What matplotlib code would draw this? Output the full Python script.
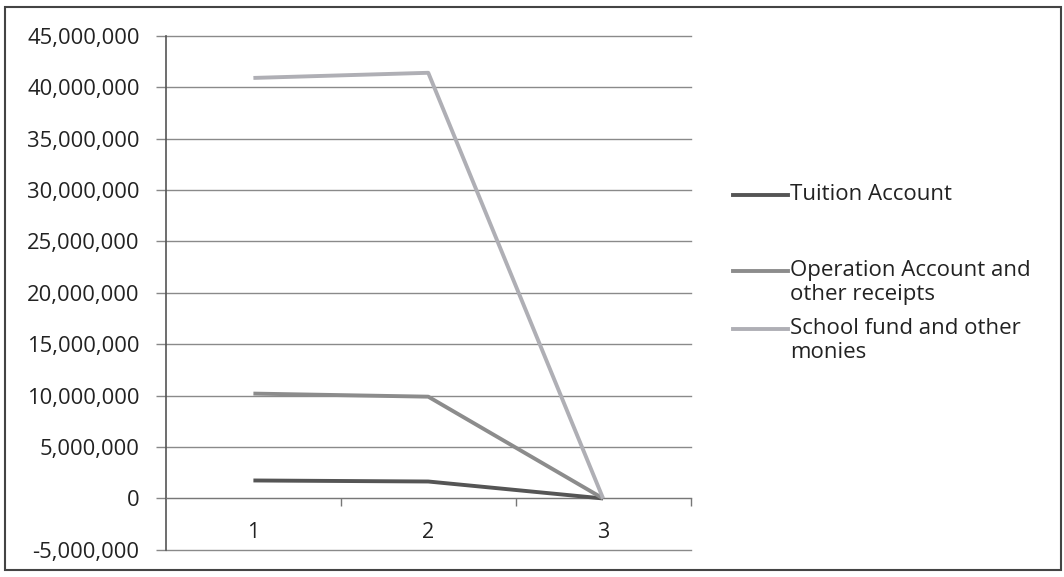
import matplotlib
matplotlib.use("Agg")
import matplotlib.pyplot as plt
from matplotlib.lines import Line2D
from matplotlib.patches import Rectangle
from matplotlib.ticker import FuncFormatter, FixedLocator

plt.rcParams['font.family'] = ['Open Sans', 'DejaVu Sans']

categories = [1, 2, 3]
tuition = [1750000, 1650000, 0]
operation = [10200000, 9900000, 0]
school_fund = [40900000, 41400000, 0]
series_names = ["Tuition Account", "Operation Account and\nother receipts", "School fund and other\nmonies"]
series_colors = ["#555555", "#8c8c8c", "#afafb5"]
yticks = list(range(-5000000, 45000001, 5000000))

fig = plt.figure(figsize=(10.64, 5.77), dpi=100)
ax = fig.add_axes([0.156, 0.047, 0.493, 0.891])

x = list(range(len(categories)))
for vals, c in zip([tuition, operation, school_fund], series_colors):
    ax.plot(x, vals, color=c, lw=2.8, solid_capstyle='butt', zorder=3)

ax.set_xlim(-0.5, len(categories) - 0.5)
ax.set_ylim(-5000000, 45000000)
ax.set_yticks(yticks)
ax.yaxis.set_major_formatter(FuncFormatter(lambda v, p: f"{int(v):,}"))
ax.grid(axis='y', color='#8a8a8a', lw=1.0)
for gl in ax.get_ygridlines():
    gl.set_clip_on(False)
ax.set_axisbelow(True)

ax.set_xticks(x)
ax.set_xticklabels([str(c) for c in categories])
ax.xaxis.set_minor_locator(FixedLocator([i + 0.5 for i in x]))
ax.tick_params(axis='x', which='major', length=0, pad=17, labelsize=15.5, colors='#222222')
ax.tick_params(axis='x', which='minor', length=6, width=1, color='#777777', direction='out')
ax.tick_params(axis='y', length=7, width=1, color='#888888', labelsize=15.8, labelcolor='#222222', pad=12)

for s in ['top', 'right']:
    ax.spines[s].set_visible(False)
ax.spines['bottom'].set_position(('data', 0))
ax.spines['bottom'].set_color('#777777')
ax.spines['left'].set_color('#555555')
ax.spines['left'].set_linewidth(1.2)

# legend drawn manually
leg_y = [195, 271, 329]
for name, c, yy in zip(series_names, series_colors, leg_y):
    yf = 1 - yy / 577
    fig.add_artist(Line2D([733 / 1064, 788 / 1064], [yf, yf], color=c, lw=2.8))
    fig.text(790 / 1064, yf + 0.019, name, fontsize=16, color='#222222', va='top',
             linespacing=1.2)

fig.add_artist(Rectangle((5 / 1064, 7 / 577), 1056 / 1064, 563 / 577, transform=fig.transFigure,
                         fill=False, edgecolor='#444444', lw=1.5))

fig.savefig("out.png", dpi=100, facecolor='white')
